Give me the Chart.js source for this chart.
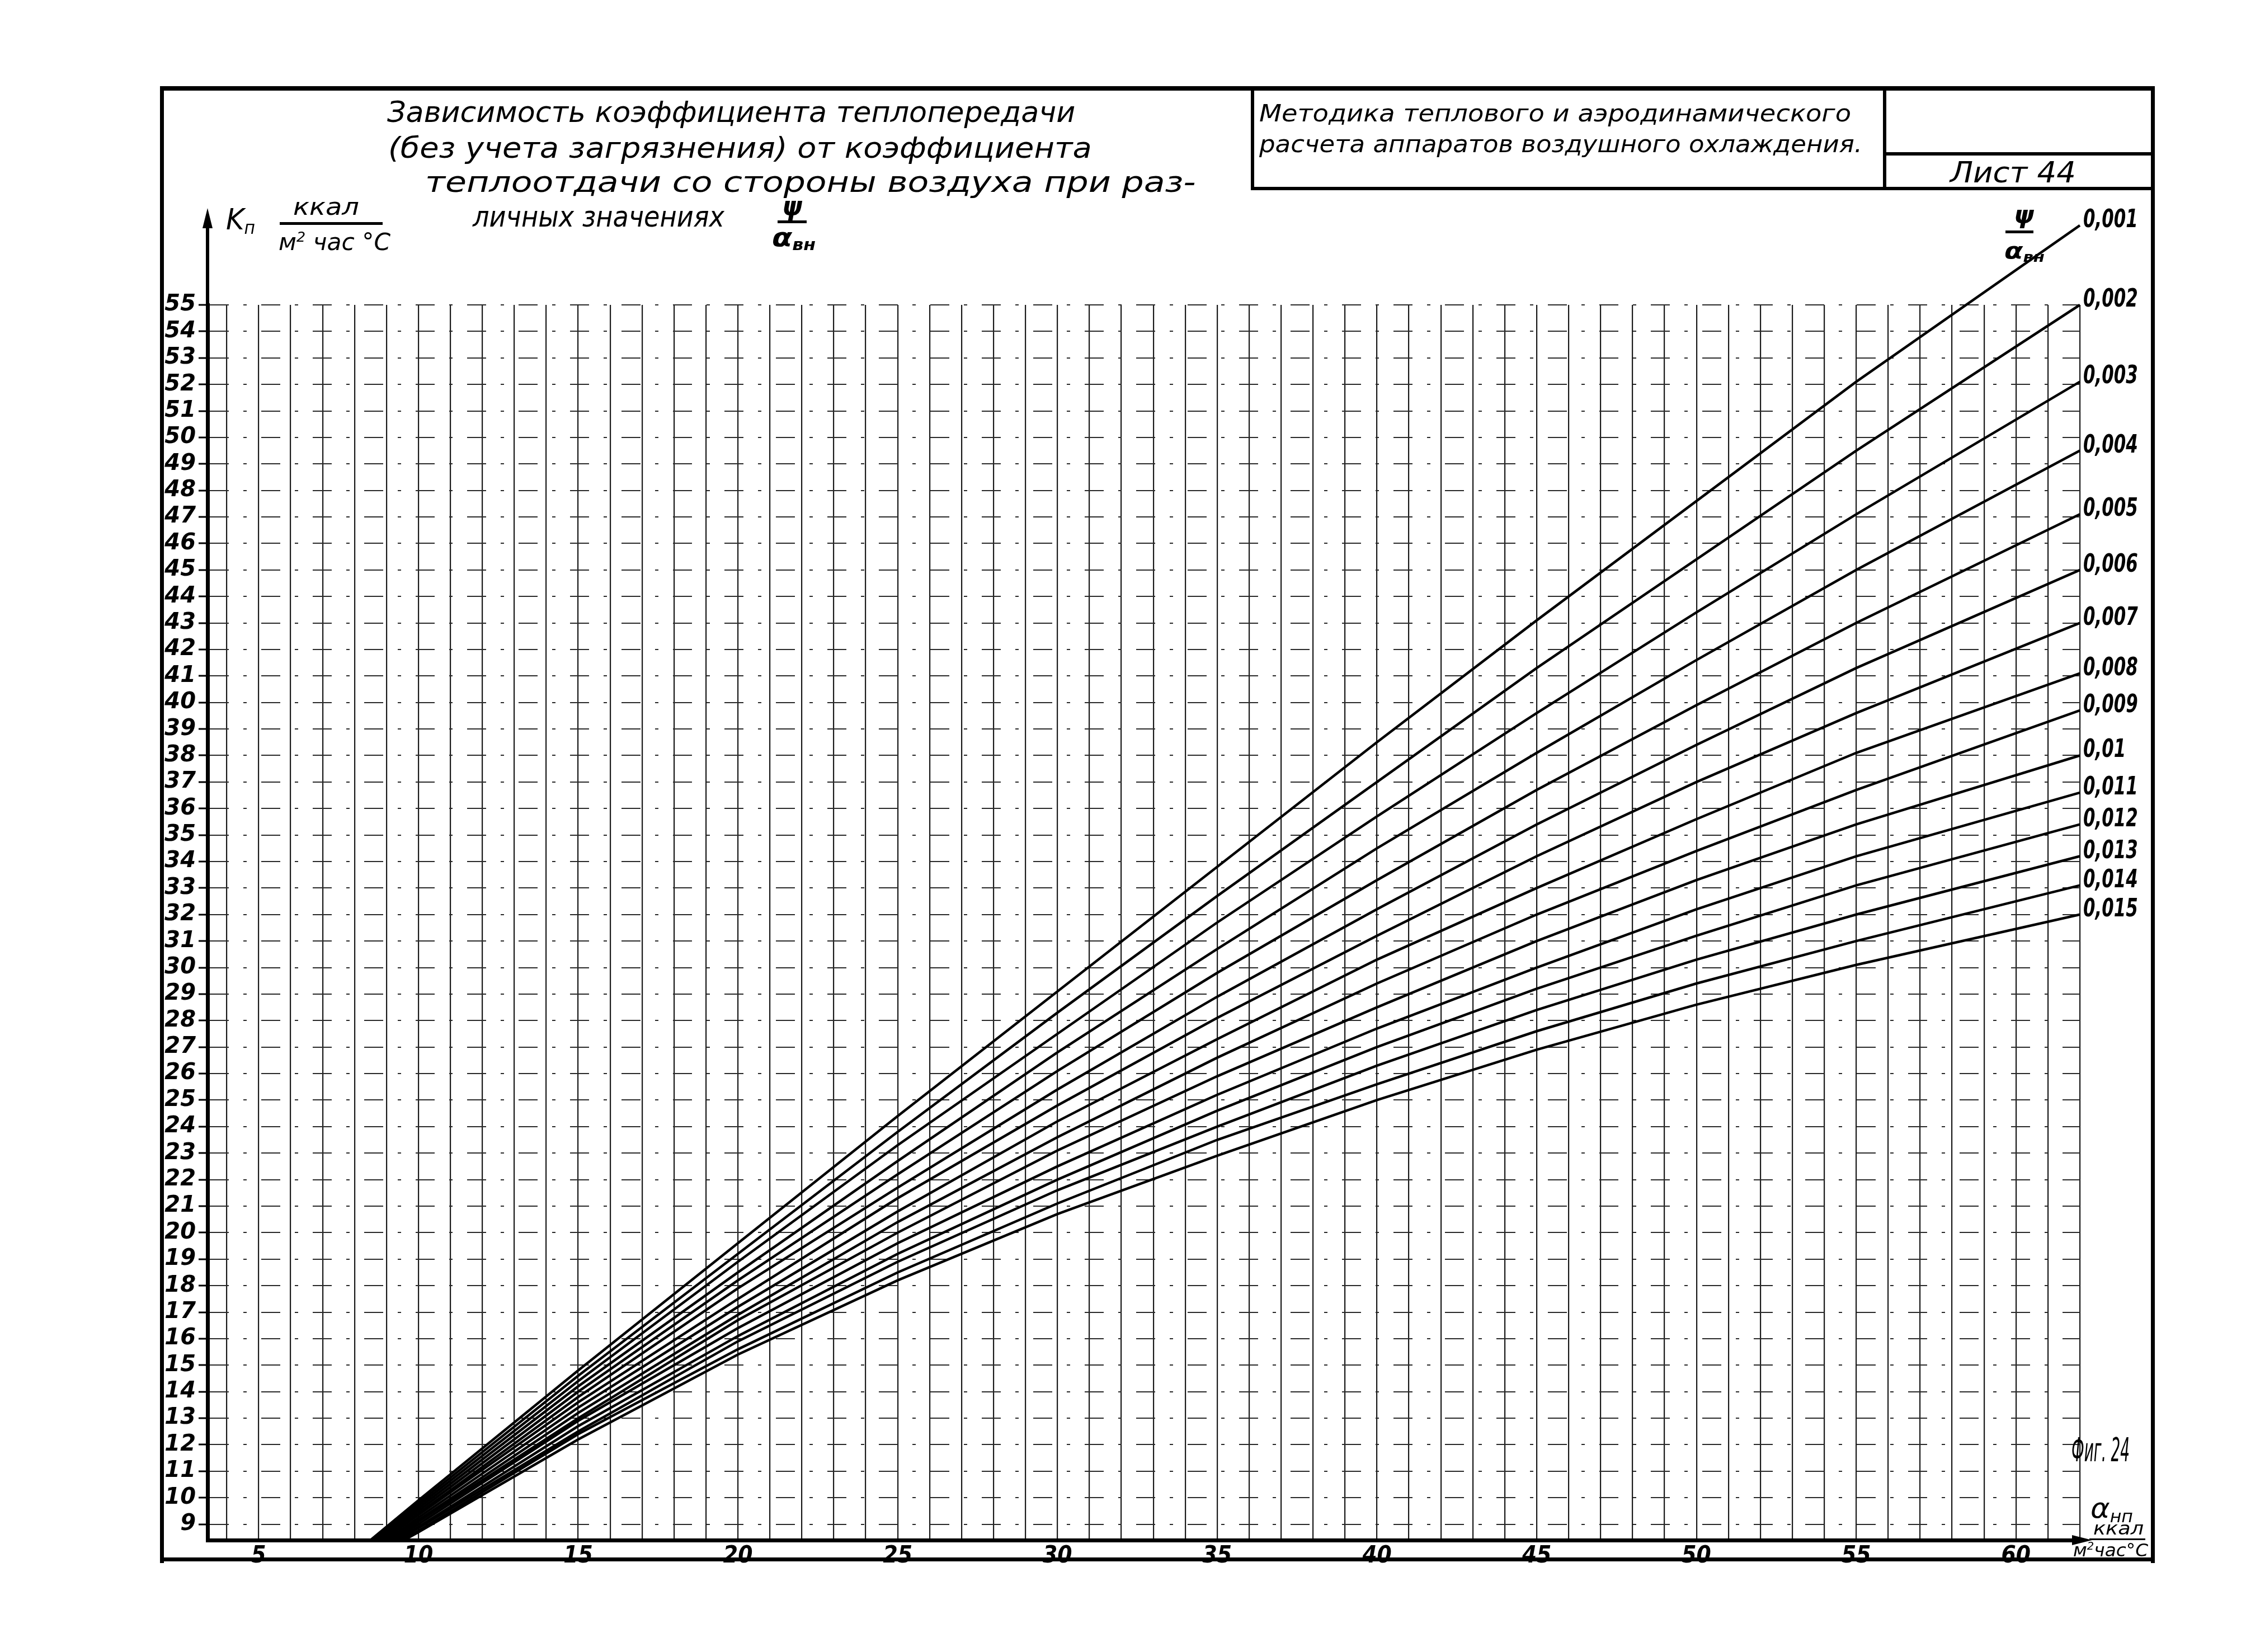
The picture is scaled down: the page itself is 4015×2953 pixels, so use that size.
<!DOCTYPE html>
<html>
<head>
<meta charset="utf-8">
<script src="https://cdn.jsdelivr.net/npm/chart.js@4.4.1/dist/chart.umd.min.js"></script>
<style>
    html, body { margin: 0; padding: 0; background: #fff; }
    #sheet { position: relative; width: 4015px; height: 2953px; overflow: hidden; background: #fff; }
    #plot { position: absolute; left: 0; top: 0; }
    .t {
        position: absolute; white-space: nowrap; color: #000; line-height: 1;
        font-family: "DejaVu Sans Condensed", "DejaVu Sans", sans-serif; font-style: italic;
        transform-origin: 0 50%;
    }
    .t sub { font-size: 60%; vertical-align: -0.25em; }
    .t sup { font-size: 60%; vertical-align: 0.6em; }
    .ln { position: absolute; background: #000; }
</style>
</head>
<body>
<div id="sheet">
    <canvas id="plot" width="4015" height="2953"></canvas>
</div>
<script>
    // ---- data ----
    const alphaPoints = [10, 15, 20, 25, 30, 35, 40, 45, 50, 55, 62]; // α нп, ккал/м² час °C
    const kStart = 8.4; // every curve leaves the bottom of the K axis
    const alphaStart = [8.5, 8.55, 8.6, 8.7, 8.75, 8.85, 8.9, 9.0, 9.05, 9.15, 9.2, 9.3, 9.35, 9.45, 9.55];

    const k001 = [9.9, 14.8, 19.6, 24.4, 29.1, 33.8, 38.5, 43.1, 47.6, 52.1, 58.0];
    const k002 = [9.8, 14.6, 19.2, 23.8, 28.3, 32.7, 37.0, 41.3, 45.4, 49.5, 55.0];
    const k003 = [9.7, 14.4, 18.9, 23.3, 27.5, 31.7, 35.7, 39.6, 43.4, 47.1, 52.1];
    const k004 = [9.6, 14.2, 18.5, 22.7, 26.8, 30.7, 34.5, 38.1, 41.6, 45.0, 49.5];
    const k005 = [9.5, 14.0, 18.2, 22.2, 26.1, 29.8, 33.3, 36.7, 39.9, 43.0, 47.1];
    const k006 = [9.4, 13.8, 17.9, 21.7, 25.4, 28.9, 32.2, 35.4, 38.4, 41.3, 45.0];
    const k007 = [9.35, 13.6, 17.5, 21.3, 24.8, 28.1, 31.2, 34.2, 37.0, 39.6, 43.0];
    const k008 = [9.25, 13.4, 17.2, 20.8, 24.2, 27.3, 30.3, 33.0, 35.6, 38.1, 41.1];
    const k009 = [9.15, 13.2, 16.9, 20.4, 23.6, 26.6, 29.4, 32.0, 34.4, 36.7, 39.7];
    const k010 = [9.1, 13.0, 16.7, 20.0, 23.1, 25.9, 28.5, 31.0, 33.3, 35.4, 38.0];
    const k011 = [9.0, 12.9, 16.4, 19.6, 22.5, 25.2, 27.7, 30.0, 32.2, 34.2, 36.6];
    const k012 = [8.9, 12.7, 16.1, 19.2, 22.0, 24.6, 27.0, 29.2, 31.2, 33.1, 35.4];
    const k013 = [8.85, 12.5, 15.9, 18.9, 21.6, 24.0, 26.3, 28.4, 30.3, 32.0, 34.2];
    const k014 = [8.75, 12.4, 15.6, 18.5, 21.1, 23.5, 25.6, 27.6, 29.4, 31.0, 33.1];
    const k015 = [8.7, 12.2, 15.4, 18.2, 20.7, 22.9, 25.0, 26.9, 28.6, 30.1, 32.0];

    const curveNames = ["0,001", "0,002", "0,003", "0,004", "0,005", "0,006", "0,007", "0,008",
        "0,009", "0,01", "0,011", "0,012", "0,013", "0,014", "0,015"];
    const kSeries = [k001, k002, k003, k004, k005, k006, k007, k008, k009, k010, k011, k012, k013, k014, k015];

    const xTickLabels = [5, 10, 15, 20, 25, 30, 35, 40, 45, 50, 55, 60];
    const yTickLabels = [9, 10, 11, 12, 13, 14, 15, 16, 17, 18, 19, 20, 21, 22, 23, 24, 25, 26, 27, 28, 29, 30,
        31, 32, 33, 34, 35, 36, 37, 38, 39, 40, 41, 42, 43, 44, 45, 46, 47, 48, 49, 50, 51, 52, 53, 54, 55];

    const X_MIN = 3.4, X_MAX = 62, Y_MIN = kStart, Y_MAX = 55;

    // vertical rulings every 1 unit
    const xGrid = [];
    for (let v = 4; v <= X_MAX; v++) xGrid.push(v);

    const FONT = '"DejaVu Sans Condensed", "DejaVu Sans", sans-serif';

    // ---- frame and handwritten texts ----
    const sheet = document.getElementById("sheet");

    function rule(x, y, w, h) {
        const d = document.createElement("div");
        d.className = "ln";
        d.style.left = x + "px"; d.style.top = y + "px";
        d.style.width = w + "px"; d.style.height = h + "px";
        sheet.appendChild(d);
    }

    function text(html, x, cy, w, size, weight) {
        const d = document.createElement("div");
        d.className = "t";
        d.innerHTML = html;
        d.style.fontSize = size + "px";
        d.style.fontWeight = weight || "normal";
        d.style.left = x + "px";
        d.style.top = (cy - size / 2) + "px";
        sheet.appendChild(d);
        const nat = d.getBoundingClientRect().width;
        if (w && nat) d.style.transform = "scaleX(" + (w / nat).toFixed(3) + ")";
    }

    // outer frame
    rule(286, 154, 3566, 8);
    rule(286, 154, 7, 2640);
    rule(3845, 154, 7, 2640);
    rule(286, 2784, 3566, 7);
    // title block
    rule(2236, 154, 6, 186);
    rule(2236, 334, 1616, 6);
    rule(3366, 154, 6, 186);
    rule(3366, 272, 486, 6);

    text("Зависимость коэффициента теплопередачи", 692, 200, 1230, 52);
    text("(без учета загрязнения) от коэффициента", 694, 264, 1258, 52);
    text("теплоотдачи со стороны воздуха при раз-", 760, 325, 1378, 52);
    text("личных значениях", 845, 387, 450, 52);
    text("ψ", 1398, 368, 36, 48, "bold");
    rule(1390, 394, 52, 5);
    text("α<sub>вн</sub>", 1380, 424, 78, 46, "bold");

    text("K<sub>п</sub>", 404, 392, 52, 52);
    text("ккал", 524, 370, 118, 42);
    rule(500, 397, 184, 5);
    text("м<sup>2</sup> час °C", 498, 432, 200, 42);

    text("Методика теплового и аэродинамического", 2251, 203, 1058, 42);
    text("расчета аппаратов воздушного охлаждения.", 2251, 258, 1078, 42);
    text("Лист 44", 3486, 308, 225, 52);

    text("ψ", 3600, 384, 36, 44, "bold");
    rule(3585, 412, 50, 5);
    text("α<sub>вн</sub>", 3583, 448, 72, 40, "bold");

    text("Фиг. 24", 3703, 2592, 104, 58);
    text("α<sub>нп</sub>", 3737, 2696, 76, 50);
    text("ккал", 3742, 2732, 90, 32);
    rule(3735, 2750, 100, 3);
    text("м<sup>2</sup>час°C", 3706, 2770, 134, 32);

    // ---- chart ----
    const datasets = kSeries.map((ks, i) => ({
        label: curveNames[i],
        data: [{ x: alphaStart[i], y: kStart }].concat(alphaPoints.map((a, j) => ({ x: a, y: ks[j] }))),
        borderColor: "#000",
        borderWidth: 4.5,
        pointRadius: 0,
        tension: 0,
        fill: false,
        clip: false,
    }));

    const extras = {
        id: "extras",
        afterDraw(chart) {
            const ctx = chart.ctx;
            const area = chart.chartArea;
            ctx.save();
            ctx.fillStyle = "#000";
            ctx.strokeStyle = "#000";

            // curve labels at the right ends
            ctx.font = "italic bold 44px " + FONT;
            ctx.textBaseline = "alphabetic";
            chart.data.datasets.forEach((ds, i) => {
                const pts = chart.getDatasetMeta(i).data;
                const p = pts[pts.length - 1];
                ctx.save();
                ctx.translate(p.x + 6, p.y + 3);
                ctx.scale(0.78, 1);
                ctx.fillText(ds.label, 0, 0);
                ctx.restore();
            });

            // K axis continues upward with an arrow
            const yTop = 372;
            ctx.lineWidth = 6;
            ctx.beginPath();
            ctx.moveTo(area.left, area.top);
            ctx.lineTo(area.left, yTop + 20);
            ctx.stroke();
            ctx.beginPath();
            ctx.moveTo(area.left, yTop);
            ctx.lineTo(area.left - 9, yTop + 36);
            ctx.lineTo(area.left + 9, yTop + 36);
            ctx.closePath();
            ctx.fill();

            // α axis arrow
            ctx.beginPath();
            ctx.moveTo(area.right + 22, area.bottom);
            ctx.lineTo(area.right - 14, area.bottom - 9);
            ctx.lineTo(area.right - 14, area.bottom + 9);
            ctx.closePath();
            ctx.fill();
            ctx.restore();
        },
    };

    new Chart(document.getElementById("plot"), {
        type: "line",
        data: { datasets: datasets },
        plugins: [extras],
        options: {
            responsive: false,
            animation: false,
            events: [],
            layout: { padding: { left: 0, top: 545, right: 297, bottom: 140 } },
            plugins: {
                legend: { display: false },
                tooltip: { enabled: false },
            },
            scales: {
                x: {
                    type: "linear",
                    min: X_MIN,
                    max: X_MAX,
                    afterFit: (s) => { s.height = 60; },
                    afterBuildTicks: (s) => { s.ticks = xGrid.map((v) => ({ value: v })); },
                    border: { display: true, color: "#000", width: 7 },
                    grid: {
                        color: "#1a1a1a",
                        lineWidth: 2.2,
                        drawTicks: true,
                        tickLength: 4,
                    },
                    ticks: {
                        autoSkip: false,
                        maxRotation: 0,
                        padding: 0,
                        color: "#000",
                        font: { family: FONT, size: 42, style: "italic", weight: "bold" },
                        callback: (v) => (xTickLabels.includes(v) ? String(v) : ""),
                    },
                },
                y: {
                    type: "linear",
                    min: Y_MIN,
                    max: Y_MAX,
                    afterFit: (s) => { s.width = 371; },
                    afterBuildTicks: (s) => { s.ticks = yTickLabels.map((v) => ({ value: v })); },
                    border: { display: true, color: "#000", width: 7, dash: [34, 26, 6, 26] },
                    grid: {
                        color: "#2a2a2a",
                        lineWidth: 2,
                        drawTicks: true,
                        tickLength: 16,
                        tickColor: "#000",
                        tickWidth: 3,
                    },
                    ticks: {
                        autoSkip: false,
                        padding: 5,
                        color: "#000",
                        font: { family: '"DejaVu Sans", sans-serif', size: 40, style: "italic", weight: "bold" },
                    },
                },
            },
        },
    });
</script>
</body>
</html>
